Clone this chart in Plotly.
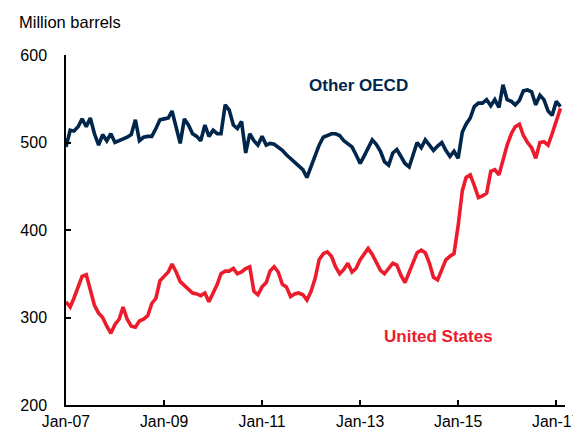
import pandas as pd
import plotly.graph_objects as go

months = pd.date_range("2007-01-01", periods=122, freq="MS")

other_oecd = [
    495, 514, 513, 518, 527, 518, 528, 510, 497, 509, 502, 510,
    500, 502, 504, 506, 509, 526, 502, 506, 507, 507, 516, 526,
    527, 528, 536, 515, 499, 527, 520, 510, 507, 502, 520, 507,
    514, 510, 510, 543, 537, 520, 516, 524, 488, 510, 502, 497,
    507, 497, 499, 498, 495, 491, 486, 482, 478, 473, 469, 460,
    472, 486, 497, 506, 508, 510, 510, 508, 502, 499, 495, 486,
    476, 485, 493, 503, 498, 490, 478, 474, 488, 492, 484, 476,
    472, 488, 500, 494, 503, 497, 491, 496, 500, 491, 484, 490,
    482, 512, 521, 528, 541, 545, 545, 549, 542, 549, 540, 566,
    549, 547, 543, 548, 559, 560, 558, 543, 554, 549, 536, 531,
    547, 541,
]

united_states = [
    318, 312, 322, 335, 347, 349, 330, 314, 305, 300, 290, 282,
    292, 298, 312, 298, 290, 289, 296, 298, 302, 316, 322, 342,
    347, 352, 361, 352, 341, 337, 332, 328, 327, 325, 328, 318,
    328, 338, 350, 353, 353, 356, 350, 352, 356, 358, 330, 326,
    335, 340, 353, 358, 352, 338, 335, 324, 327, 328, 326, 320,
    330, 345, 366, 373, 375, 370, 358, 350, 355, 362, 352, 356,
    366, 373, 379, 372, 362, 354, 350, 356, 362, 360, 348, 340,
    352, 364, 374, 377, 374, 362, 346, 343, 354, 366, 370, 373,
    405, 445, 460, 463, 451, 437, 439, 442, 467, 469, 463, 480,
    497, 510, 518, 521, 508, 500, 494, 482, 500, 501, 497, 510,
    525, 539,
]

series_names = ["Other OECD", "United States"]
y_title = "Million barrels"

NAVY = "#00264b"
RED = "#ec1c2d"
FONT = "Liberation Sans, Arial, sans-serif"

fig = go.Figure()
fig.add_trace(go.Scatter(x=months, y=other_oecd, mode="lines", name=series_names[0],
                         line=dict(color=NAVY, width=3.6), showlegend=False))
fig.add_trace(go.Scatter(x=months, y=united_states, mode="lines", name=series_names[1],
                         line=dict(color=RED, width=3.6), showlegend=False))

# page body has an 8px default margin, so the figure is offset by (8, 8);
# keep the height small enough that no vertical scrollbar appears
fig.update_layout(
    width=573, height=421,
    margin=dict(l=58, r=16, t=47, b=24, autoexpand=False),
    paper_bgcolor="white", plot_bgcolor="white",
    font=dict(family=FONT, size=16, color="black"),
    xaxis=dict(
        range=["2007-01-01", "2017-03-07"], automargin=False,
        tick0="2007-01-01", dtick="M24", tickformat="%b-%y",
        showgrid=False, zeroline=False,
        showline=True, linecolor="black", linewidth=1.5,
        ticks="inside", ticklen=5, tickwidth=1.5, tickcolor="black",
        ticklabelstandoff=1, tickfont=dict(size=15.8),
    ),
    yaxis=dict(
        range=[200, 600], dtick=100, tick0=200, automargin=False,
        showgrid=False, zeroline=False,
        showline=True, linecolor="black", linewidth=1.5,
        ticks="inside", ticklen=5, tickwidth=1.5, tickcolor="black",
        ticklabelstandoff=14,
    ),
    annotations=[
        dict(text=y_title, xref="paper", yref="paper", x=-0.098, y=1.094,
             xanchor="left", yanchor="middle", showarrow=False,
             font=dict(size=16.5, color="black")),
        dict(text="<b>" + series_names[0] + "</b>", xref="paper", yref="paper",
             x=0.587, y=0.914, xanchor="center", yanchor="middle", showarrow=False,
             font=dict(size=17, color=NAVY)),
        dict(text="<b>" + series_names[1] + "</b>", xref="paper", yref="paper",
             x=0.747, y=0.197, xanchor="center", yanchor="middle", showarrow=False,
             font=dict(size=17, color=RED)),
    ],
)

fig.write_html("out.html")
